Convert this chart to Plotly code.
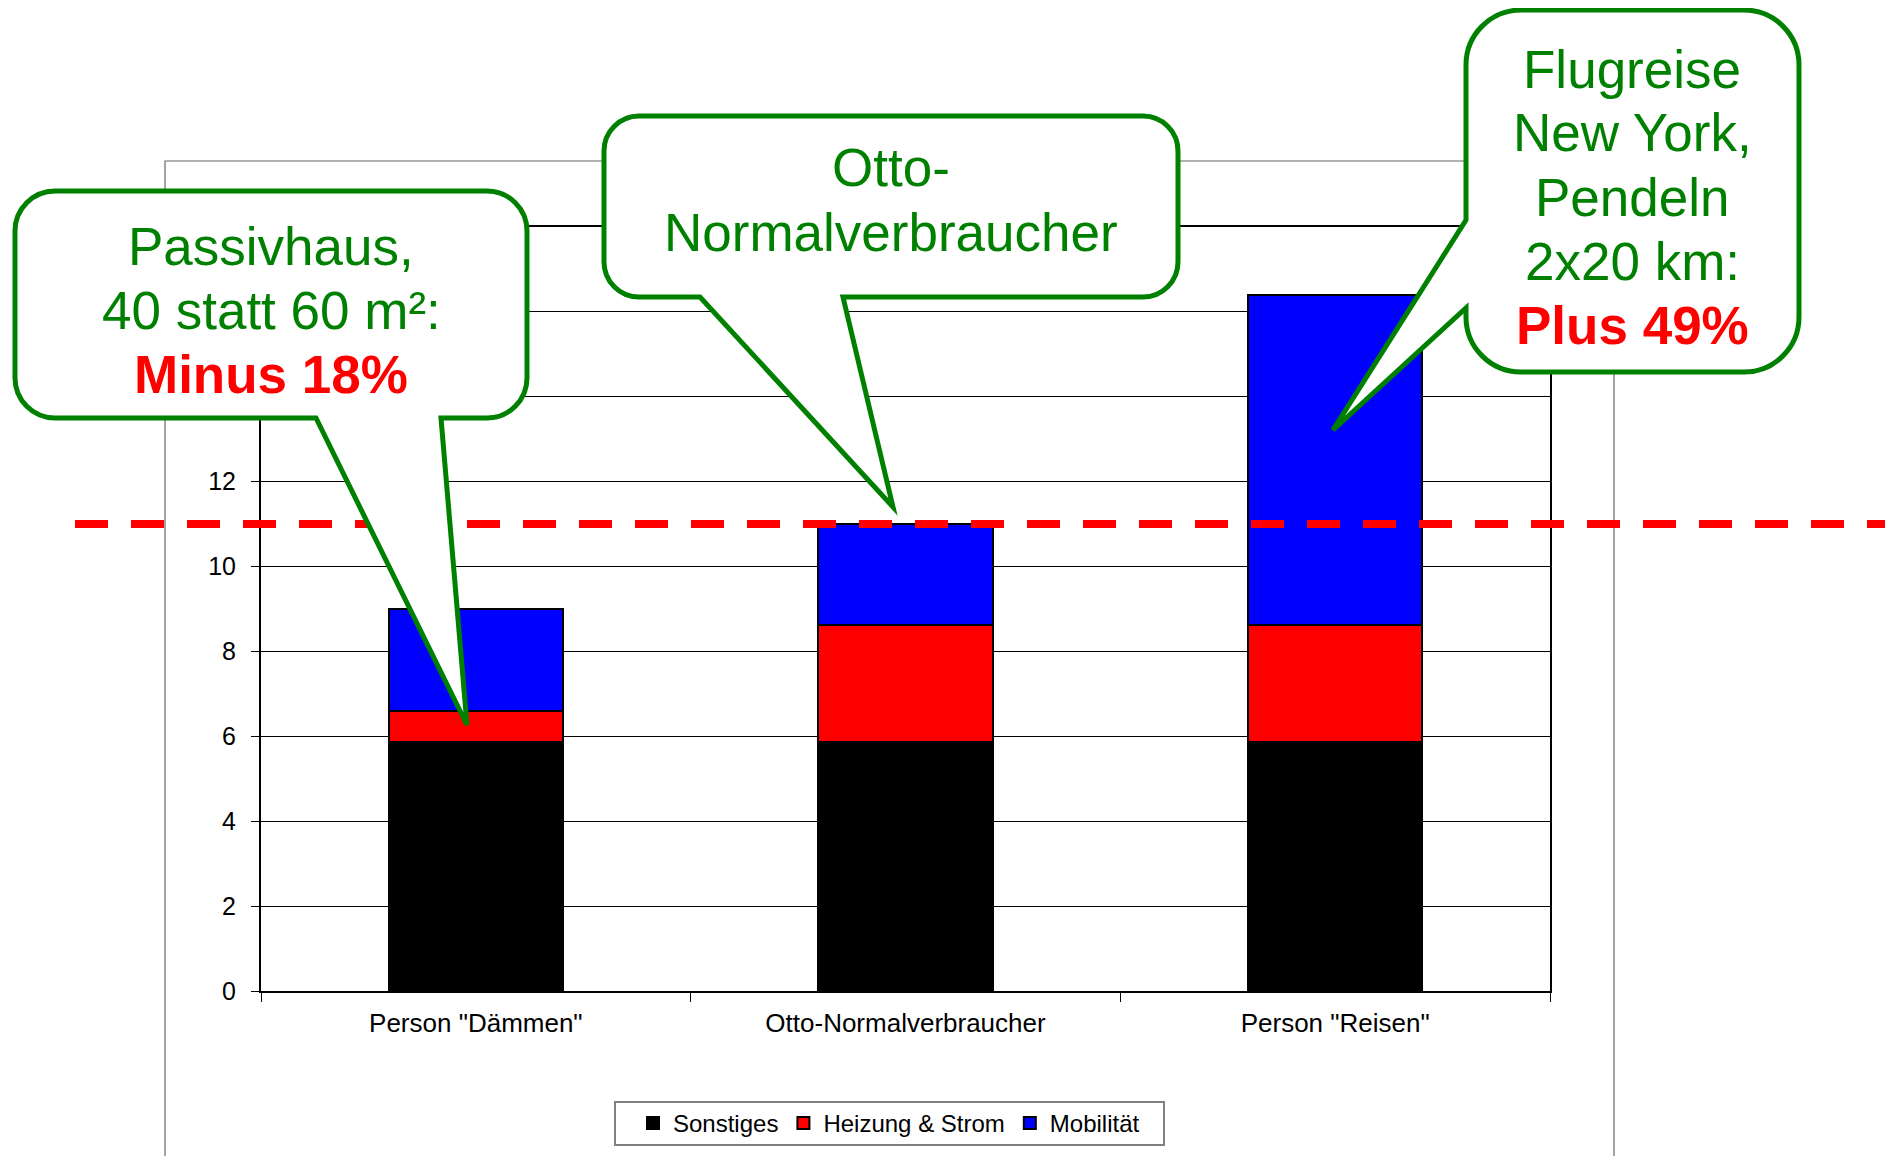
import plotly.graph_objects as go

# ---------------- data ----------------
categories = ['Person "Dämmen"', 'Otto-Normalverbraucher', 'Person "Reisen"']
series_names = ["Sonstiges", "Heizung & Strom", "Mobilität"]
sonstiges = [5.86, 5.86, 5.86]
heizung_strom = [0.74, 2.76, 2.76]
mobilitaet = [2.39, 2.38, 7.78]
reference_value = 11.0          # Otto-Normalverbraucher total (dashed line)
y_tick_labels = [0, 2, 4, 6, 8, 10, 12]   # visible labels
y_hidden_grid = [14, 16, 18]              # gridlines whose labels sit under the callout

callout1_lines = ["Passivhaus,", "40 statt 60 m²:", "Minus 18%"]
callout2_lines = ["Otto-", "Normalverbraucher"]
callout3_lines = ["Flugreise", "New York,", "Pendeln", "2x20 km:", "Plus 49%"]

# ---------------- layout geometry (screen pixels) ----------------
OFF = 8                      # page body margin
W, H = 1893 - OFF, 1156 - OFF
SL, SR, ST, SB = 261, 1550, 227, 991     # plot area in screen pixels
L, R, T, B = SL - OFF, SR - OFF, ST - OFF, SB - OFF
FONT = "Liberation Sans, Arial, sans-serif"
GREEN = "#008000"


def px(x):
    return (x - SL) / (SR - SL)


def py(y):
    return (SB - y) / (SB - ST)


def pt(x, y):
    return f"{px(x):.5f},{py(y):.5f}"


def callout_path(x0, y0, x1, y1, r, tail):
    k = 0.5523 * r
    side, base_a, base_b, tip = tail
    p = [f"M{pt(x0 + r, y0)}", f"L{pt(x1 - r, y0)}",
         f"C{pt(x1 - r + k, y0)} {pt(x1, y0 + r - k)} {pt(x1, y0 + r)}",
         f"L{pt(x1, y1 - r)}",
         f"C{pt(x1, y1 - r + k)} {pt(x1 - r + k, y1)} {pt(x1 - r, y1)}"]
    if side == "bottom":
        p += [f"L{pt(base_a, y1)}", f"L{pt(*tip)}", f"L{pt(base_b, y1)}"]
    p += [f"L{pt(x0 + r, y1)}",
          f"C{pt(x0 + r - k, y1)} {pt(x0, y1 - r + k)} {pt(x0, y1 - r)}"]
    if side == "left":
        p += [f"L{pt(x0, base_a)}", f"L{pt(*tip)}", f"L{pt(x0, base_b)}"]
    p += [f"L{pt(x0, y0 + r)}",
          f"C{pt(x0, y0 + r - k)} {pt(x0 + r - k, y0)} {pt(x0 + r, y0)}", "Z"]
    return " ".join(p)


fig = go.Figure()
colors = ["#000000", "#FF0000", "#0000FF"]
for name, vals, col in zip(series_names, [sonstiges, heizung_strom, mobilitaet], colors):
    fig.add_trace(go.Bar(
        x=categories, y=vals, name=name,
        marker=dict(color=col, line=dict(color="#000000", width=2)),
    ))

shapes = []
# outer chart-area frame
shapes.append(dict(type="rect", xref="paper", yref="paper",
                   x0=px(165), x1=px(1614), y0=py(161), y1=py(1200),
                   line=dict(color="#666666", width=1.2), layer="below"))
# legend frame
shapes.append(dict(type="rect", xref="paper", yref="paper",
                   x0=px(615), x1=px(1164), y0=py(1102), y1=py(1145),
                   fillcolor="#FFFFFF", line=dict(color="#808080", width=2),
                   layer="above"))
# dashed reference line
shapes.append(dict(type="line", xref="paper", yref="y",
                   x0=px(75), x1=px(1900), y0=reference_value, y1=reference_value,
                   line=dict(color="#FF0000", width=8, dash="33px,23px"), layer="above"))

c1 = callout_path(15, 191, 527, 418, 40, ("bottom", 441, 316, (467, 725)))
c2 = callout_path(604, 116, 1178, 297, 35, ("bottom", 843, 700, (893, 507)))
c3 = callout_path(1466, 10, 1799, 372, 55, ("left", 308, 220, (1333, 430)))
for path in (c1, c2, c3):
    shapes.append(dict(type="path", xref="paper", yref="paper", path=path,
                       fillcolor="#FFFFFF", line=dict(color=GREEN, width=5),
                       layer="above"))

annotations = []


def add_lines(lines, cx, y_first, highlight_last):
    for i, txt in enumerate(lines):
        last = highlight_last and i == len(lines) - 1
        annotations.append(dict(
            xref="paper", yref="paper", x=px(cx), y=py(y_first + 64 * i),
            xanchor="center", yanchor="middle", showarrow=False,
            text=f"<b>{txt}</b>" if last else txt,
            font=dict(family=FONT, size=53, color="#FF0000" if last else GREEN),
        ))


add_lines(callout1_lines, 271, 246, True)
add_lines(callout2_lines, 891, 168, False)
add_lines(callout3_lines, 1632, 69, True)

fig.update_layout(
    width=W, height=H,
    margin=dict(l=L, r=W - R, t=T, b=H - B, autoexpand=False),
    paper_bgcolor="#FFFFFF", plot_bgcolor="#FFFFFF",
    barmode="stack", bargap=0.595,
    font=dict(family=FONT, color="#000000"),
    showlegend=True,
    legend=dict(orientation="h", traceorder="normal",
                x=px(889), xanchor="center", y=py(1101), yanchor="top",
                bgcolor="rgba(0,0,0,0)", borderwidth=0,
                font=dict(family=FONT, size=24, color="#000000")),
    xaxis=dict(showline=True, linecolor="#000000", linewidth=2, mirror=True,
               ticks="outside", tickson="boundaries", ticklen=9, tickcolor="#000000",
               tickwidth=1, showgrid=False, tickfont=dict(size=26, color="#000000"),
               ticklabelstandoff=8),
    yaxis=dict(range=[0, 18], tickvals=y_tick_labels, showgrid=True, gridcolor="#000000",
               gridwidth=1, showline=True, linecolor="#000000", linewidth=2,
               mirror=True, ticks="outside", ticklen=8, tickcolor="#000000",
               tickwidth=1, zeroline=False, tickfont=dict(size=25, color="#000000"),
               ticklabelstandoff=10,
               minor=dict(tickvals=y_hidden_grid, showgrid=True, gridcolor="#000000",
                          gridwidth=1, ticks="outside", ticklen=8, tickcolor="#000000")),
    shapes=shapes, annotations=annotations,
)

fig.write_html("out.html")
